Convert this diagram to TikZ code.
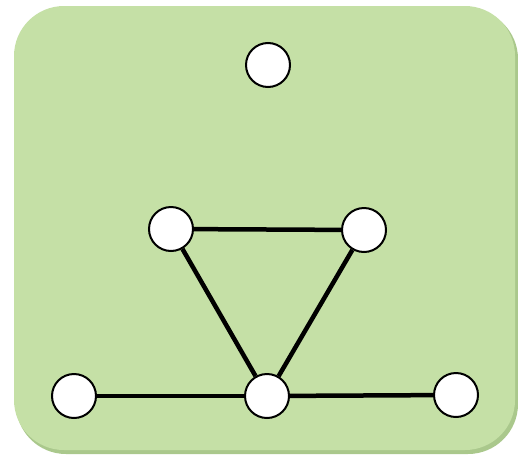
\documentclass[tikz,border=0pt]{standalone}
\usepackage{tikz}
\usetikzlibrary{positioning}

\definecolor{panelgreen}{RGB}{197,224,166}
\definecolor{paneledge}{RGB}{170,200,140}

\begin{document}
\begin{tikzpicture}[x=1pt,y=-1pt,
    vertex/.style={draw,circle,fill=white,line width=2pt,minimum size=44pt,inner sep=0pt},
    link/.style={line width=4.5pt}]
      \useasboundingbox (0,0) rectangle (518,458);
      \fill[paneledge,rounded corners=50pt] (16,9) rectangle (518,454);
      \fill[panelgreen,rounded corners=50pt] (14,6) rectangle (515,450);
      \node[vertex] (t) at (268,65) {};
      \node[vertex] (ml) at (171,229) {};
      \node[vertex] (mr) at (364,230) {};
      \node[vertex] (bl) at (74,396) {};
      \node[vertex] (bc) at (267,396) {};
      \node[vertex] (br) at (456,395) {};
      \draw[link] (ml)--(mr);
      \draw[link] (ml)--(bc);
      \draw[link] (mr)--(bc);
      \draw[link] (bl)--(bc);
      \draw[link] (bc)--(br);
    \end{tikzpicture}
\end{document}
